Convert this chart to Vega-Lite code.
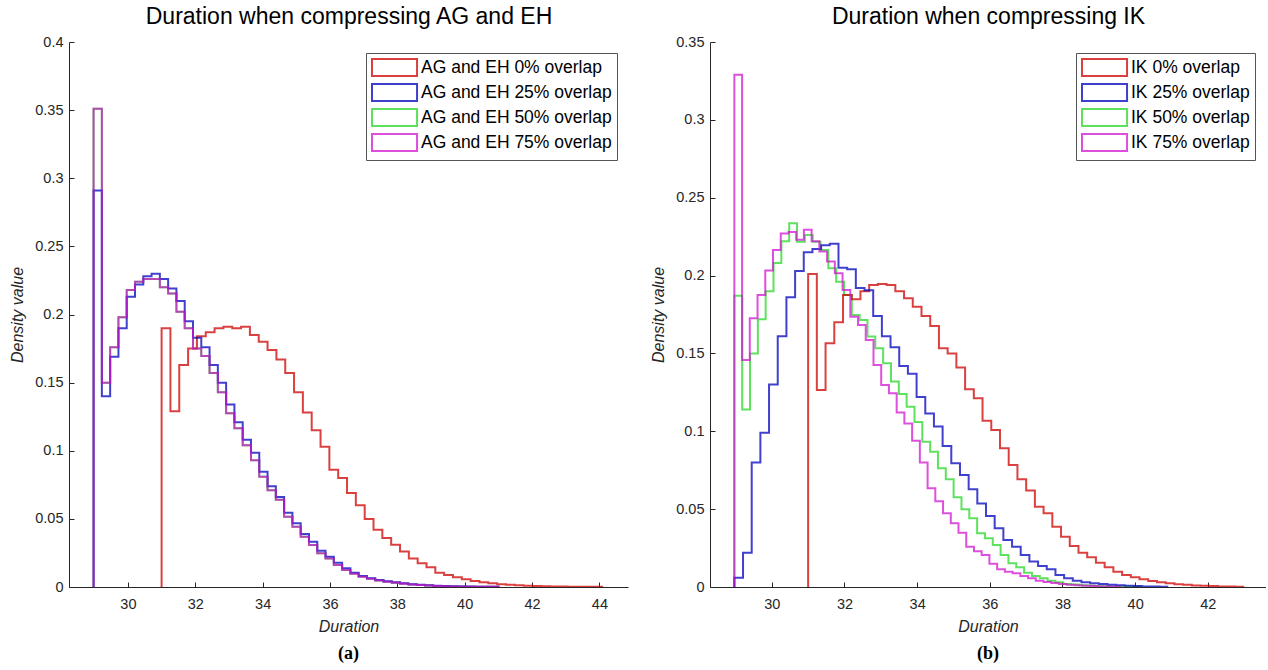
{
"$schema":"https://vega.github.io/schema/vega-lite/v6.json",
"background":"white",
"padding":{"left":9,"top":5,"right":0,"bottom":0},
"config":{
 "view":{"stroke":null},
 "font":"Liberation Sans",
 "axis":{"grid":false,"domainColor":"#262626","tickColor":"#262626","labelColor":"#262626","titleColor":"#262626","labelFont":"Liberation Sans","labelFontSize":14.5,"titleFont":"Liberation Sans","titleFontSize":16,"titleFontStyle":"italic","titleFontWeight":"normal","tickSize":-5,"tickWidth":1,"domainWidth":1},
 "axisX":{"labelPadding":15,"titlePadding":8},
 "axisY":{"labelPadding":11,"titlePadding":9},
 "legend":{"orient":"top-right","offset":11,"strokeColor":"#555555","fillColor":"white","padding":5,"labelFont":"Liberation Sans","labelFontSize":17.5,"labelColor":"#000000","labelLimit":400,"symbolType":"M-1,-1H4.3V1H-1Z","symbolSize":289,"symbolStrokeWidth":2,"symbolFillColor":"transparent","rowPadding":0,"labelOffset":31,"cornerRadius":0},
 "title":{"font":"Liberation Serif","fontSize":18,"fontWeight":"bold","color":"#000000","anchor":"middle","frame":"group","offset":10}
},
"datasets":{
"left":[
{"series":"AG and EH 50% overlap","x":28.98,"y":0},
{"series":"AG and EH 50% overlap","x":29.226,"y":0.351},
{"series":"AG and EH 50% overlap","x":29.472,"y":0.150},
{"series":"AG and EH 50% overlap","x":29.718,"y":0.176},
{"series":"AG and EH 50% overlap","x":29.964,"y":0.198},
{"series":"AG and EH 50% overlap","x":30.210,"y":0.218},
{"series":"AG and EH 50% overlap","x":30.456,"y":0.224},
{"series":"AG and EH 50% overlap","x":30.702,"y":0.226},
{"series":"AG and EH 50% overlap","x":30.948,"y":0.226},
{"series":"AG and EH 50% overlap","x":31.194,"y":0.220},
{"series":"AG and EH 50% overlap","x":31.440,"y":0.2155},
{"series":"AG and EH 50% overlap","x":31.686,"y":0.202},
{"series":"AG and EH 50% overlap","x":31.932,"y":0.190},
{"series":"AG and EH 50% overlap","x":32.178,"y":0.175},
{"series":"AG and EH 50% overlap","x":32.424,"y":0.1695},
{"series":"AG and EH 50% overlap","x":32.670,"y":0.157},
{"series":"AG and EH 50% overlap","x":32.916,"y":0.143},
{"series":"AG and EH 50% overlap","x":33.162,"y":0.1275},
{"series":"AG and EH 50% overlap","x":33.408,"y":0.1165},
{"series":"AG and EH 50% overlap","x":33.654,"y":0.104},
{"series":"AG and EH 50% overlap","x":33.900,"y":0.093},
{"series":"AG and EH 50% overlap","x":34.146,"y":0.081},
{"series":"AG and EH 50% overlap","x":34.392,"y":0.071},
{"series":"AG and EH 50% overlap","x":34.638,"y":0.064},
{"series":"AG and EH 50% overlap","x":34.884,"y":0.0516},
{"series":"AG and EH 50% overlap","x":35.130,"y":0.0443},
{"series":"AG and EH 50% overlap","x":35.376,"y":0.0369},
{"series":"AG and EH 50% overlap","x":35.622,"y":0.0308},
{"series":"AG and EH 50% overlap","x":35.868,"y":0.0247},
{"series":"AG and EH 50% overlap","x":36.114,"y":0.021},
{"series":"AG and EH 50% overlap","x":36.360,"y":0.0161},
{"series":"AG and EH 50% overlap","x":36.606,"y":0.0125},
{"series":"AG and EH 50% overlap","x":36.852,"y":0.0098},
{"series":"AG and EH 50% overlap","x":37.098,"y":0.0075},
{"series":"AG and EH 50% overlap","x":37.344,"y":0.006},
{"series":"AG and EH 50% overlap","x":37.590,"y":0.0048},
{"series":"AG and EH 50% overlap","x":37.836,"y":0.0039},
{"series":"AG and EH 50% overlap","x":38.082,"y":0.0031},
{"series":"AG and EH 50% overlap","x":38.328,"y":0.0024},
{"series":"AG and EH 50% overlap","x":38.574,"y":0.0018},
{"series":"AG and EH 50% overlap","x":38.820,"y":0.0014},
{"series":"AG and EH 50% overlap","x":39.066,"y":0.0011},
{"series":"AG and EH 50% overlap","x":39.312,"y":0.0008},
{"series":"AG and EH 50% overlap","x":39.558,"y":0.0006},
{"series":"AG and EH 50% overlap","x":39.804,"y":0.0004},
{"series":"AG and EH 50% overlap","x":40.050,"y":0.0003},
{"series":"AG and EH 50% overlap","x":40.296,"y":0.0002},
{"series":"AG and EH 50% overlap","x":40.542,"y":0.0002},
{"series":"AG and EH 50% overlap","x":40.788,"y":0.0001},
{"series":"AG and EH 50% overlap","x":41.034,"y":0.0001},
{"series":"AG and EH 0% overlap","x":31.0,"y":0},
{"series":"AG and EH 0% overlap","x":31.262,"y":0.190},
{"series":"AG and EH 0% overlap","x":31.524,"y":0.129},
{"series":"AG and EH 0% overlap","x":31.787,"y":0.163},
{"series":"AG and EH 0% overlap","x":32.049,"y":0.175},
{"series":"AG and EH 0% overlap","x":32.311,"y":0.184},
{"series":"AG and EH 0% overlap","x":32.573,"y":0.187},
{"series":"AG and EH 0% overlap","x":32.835,"y":0.190},
{"series":"AG and EH 0% overlap","x":33.098,"y":0.191},
{"series":"AG and EH 0% overlap","x":33.360,"y":0.190},
{"series":"AG and EH 0% overlap","x":33.622,"y":0.191},
{"series":"AG and EH 0% overlap","x":33.884,"y":0.185},
{"series":"AG and EH 0% overlap","x":34.146,"y":0.180},
{"series":"AG and EH 0% overlap","x":34.409,"y":0.174},
{"series":"AG and EH 0% overlap","x":34.671,"y":0.167},
{"series":"AG and EH 0% overlap","x":34.933,"y":0.157},
{"series":"AG and EH 0% overlap","x":35.195,"y":0.143},
{"series":"AG and EH 0% overlap","x":35.457,"y":0.128},
{"series":"AG and EH 0% overlap","x":35.720,"y":0.115},
{"series":"AG and EH 0% overlap","x":35.982,"y":0.103},
{"series":"AG and EH 0% overlap","x":36.244,"y":0.086},
{"series":"AG and EH 0% overlap","x":36.506,"y":0.080},
{"series":"AG and EH 0% overlap","x":36.768,"y":0.069},
{"series":"AG and EH 0% overlap","x":37.031,"y":0.060},
{"series":"AG and EH 0% overlap","x":37.293,"y":0.050},
{"series":"AG and EH 0% overlap","x":37.555,"y":0.042},
{"series":"AG and EH 0% overlap","x":37.817,"y":0.036},
{"series":"AG and EH 0% overlap","x":38.079,"y":0.031},
{"series":"AG and EH 0% overlap","x":38.342,"y":0.026},
{"series":"AG and EH 0% overlap","x":38.604,"y":0.021},
{"series":"AG and EH 0% overlap","x":38.866,"y":0.0175},
{"series":"AG and EH 0% overlap","x":39.128,"y":0.0145},
{"series":"AG and EH 0% overlap","x":39.390,"y":0.0105},
{"series":"AG and EH 0% overlap","x":39.653,"y":0.0088},
{"series":"AG and EH 0% overlap","x":39.915,"y":0.0071},
{"series":"AG and EH 0% overlap","x":40.177,"y":0.0057},
{"series":"AG and EH 0% overlap","x":40.439,"y":0.0044},
{"series":"AG and EH 0% overlap","x":40.701,"y":0.0034},
{"series":"AG and EH 0% overlap","x":40.964,"y":0.0027},
{"series":"AG and EH 0% overlap","x":41.226,"y":0.002},
{"series":"AG and EH 0% overlap","x":41.488,"y":0.0016},
{"series":"AG and EH 0% overlap","x":41.750,"y":0.0012},
{"series":"AG and EH 0% overlap","x":42.012,"y":0.0009},
{"series":"AG and EH 0% overlap","x":42.275,"y":0.0007},
{"series":"AG and EH 0% overlap","x":42.537,"y":0.0005},
{"series":"AG and EH 0% overlap","x":42.799,"y":0.0004},
{"series":"AG and EH 0% overlap","x":43.061,"y":0.0003},
{"series":"AG and EH 0% overlap","x":43.323,"y":0.0002},
{"series":"AG and EH 0% overlap","x":43.586,"y":0.00015},
{"series":"AG and EH 0% overlap","x":43.848,"y":0.0001},
{"series":"AG and EH 0% overlap","x":44.110,"y":0.0001},
{"series":"AG and EH 25% overlap","x":28.98,"y":0},
{"series":"AG and EH 25% overlap","x":29.226,"y":0.291},
{"series":"AG and EH 25% overlap","x":29.472,"y":0.140},
{"series":"AG and EH 25% overlap","x":29.718,"y":0.169},
{"series":"AG and EH 25% overlap","x":29.964,"y":0.190},
{"series":"AG and EH 25% overlap","x":30.210,"y":0.213},
{"series":"AG and EH 25% overlap","x":30.456,"y":0.222},
{"series":"AG and EH 25% overlap","x":30.702,"y":0.228},
{"series":"AG and EH 25% overlap","x":30.948,"y":0.230},
{"series":"AG and EH 25% overlap","x":31.194,"y":0.226},
{"series":"AG and EH 25% overlap","x":31.440,"y":0.219},
{"series":"AG and EH 25% overlap","x":31.686,"y":0.210},
{"series":"AG and EH 25% overlap","x":31.932,"y":0.195},
{"series":"AG and EH 25% overlap","x":32.178,"y":0.183},
{"series":"AG and EH 25% overlap","x":32.424,"y":0.176},
{"series":"AG and EH 25% overlap","x":32.670,"y":0.163},
{"series":"AG and EH 25% overlap","x":32.916,"y":0.150},
{"series":"AG and EH 25% overlap","x":33.162,"y":0.134},
{"series":"AG and EH 25% overlap","x":33.408,"y":0.121},
{"series":"AG and EH 25% overlap","x":33.654,"y":0.108},
{"series":"AG and EH 25% overlap","x":33.900,"y":0.0986},
{"series":"AG and EH 25% overlap","x":34.146,"y":0.0846},
{"series":"AG and EH 25% overlap","x":34.392,"y":0.074},
{"series":"AG and EH 25% overlap","x":34.638,"y":0.066},
{"series":"AG and EH 25% overlap","x":34.884,"y":0.0545},
{"series":"AG and EH 25% overlap","x":35.130,"y":0.0467},
{"series":"AG and EH 25% overlap","x":35.376,"y":0.0389},
{"series":"AG and EH 25% overlap","x":35.622,"y":0.0333},
{"series":"AG and EH 25% overlap","x":35.868,"y":0.0266},
{"series":"AG and EH 25% overlap","x":36.114,"y":0.0222},
{"series":"AG and EH 25% overlap","x":36.360,"y":0.0178},
{"series":"AG and EH 25% overlap","x":36.606,"y":0.0137},
{"series":"AG and EH 25% overlap","x":36.852,"y":0.0105},
{"series":"AG and EH 25% overlap","x":37.098,"y":0.008},
{"series":"AG and EH 25% overlap","x":37.344,"y":0.0064},
{"series":"AG and EH 25% overlap","x":37.590,"y":0.0051},
{"series":"AG and EH 25% overlap","x":37.836,"y":0.0042},
{"series":"AG and EH 25% overlap","x":38.082,"y":0.0034},
{"series":"AG and EH 25% overlap","x":38.328,"y":0.0027},
{"series":"AG and EH 25% overlap","x":38.574,"y":0.002},
{"series":"AG and EH 25% overlap","x":38.820,"y":0.0016},
{"series":"AG and EH 25% overlap","x":39.066,"y":0.0012},
{"series":"AG and EH 25% overlap","x":39.312,"y":0.0009},
{"series":"AG and EH 25% overlap","x":39.558,"y":0.0007},
{"series":"AG and EH 25% overlap","x":39.804,"y":0.0005},
{"series":"AG and EH 25% overlap","x":40.050,"y":0.0004},
{"series":"AG and EH 25% overlap","x":40.296,"y":0.0003},
{"series":"AG and EH 25% overlap","x":40.542,"y":0.0002},
{"series":"AG and EH 25% overlap","x":40.788,"y":0.0002},
{"series":"AG and EH 25% overlap","x":41.034,"y":0.0001},
{"series":"AG and EH 75% overlap","x":28.98,"y":0},
{"series":"AG and EH 75% overlap","x":29.226,"y":0.351},
{"series":"AG and EH 75% overlap","x":29.472,"y":0.150},
{"series":"AG and EH 75% overlap","x":29.718,"y":0.176},
{"series":"AG and EH 75% overlap","x":29.964,"y":0.198},
{"series":"AG and EH 75% overlap","x":30.210,"y":0.218},
{"series":"AG and EH 75% overlap","x":30.456,"y":0.224},
{"series":"AG and EH 75% overlap","x":30.702,"y":0.226},
{"series":"AG and EH 75% overlap","x":30.948,"y":0.226},
{"series":"AG and EH 75% overlap","x":31.194,"y":0.220},
{"series":"AG and EH 75% overlap","x":31.440,"y":0.2155},
{"series":"AG and EH 75% overlap","x":31.686,"y":0.202},
{"series":"AG and EH 75% overlap","x":31.932,"y":0.190},
{"series":"AG and EH 75% overlap","x":32.178,"y":0.175},
{"series":"AG and EH 75% overlap","x":32.424,"y":0.1695},
{"series":"AG and EH 75% overlap","x":32.670,"y":0.157},
{"series":"AG and EH 75% overlap","x":32.916,"y":0.143},
{"series":"AG and EH 75% overlap","x":33.162,"y":0.1275},
{"series":"AG and EH 75% overlap","x":33.408,"y":0.1165},
{"series":"AG and EH 75% overlap","x":33.654,"y":0.104},
{"series":"AG and EH 75% overlap","x":33.900,"y":0.093},
{"series":"AG and EH 75% overlap","x":34.146,"y":0.081},
{"series":"AG and EH 75% overlap","x":34.392,"y":0.071},
{"series":"AG and EH 75% overlap","x":34.638,"y":0.064},
{"series":"AG and EH 75% overlap","x":34.884,"y":0.0516},
{"series":"AG and EH 75% overlap","x":35.130,"y":0.0443},
{"series":"AG and EH 75% overlap","x":35.376,"y":0.0369},
{"series":"AG and EH 75% overlap","x":35.622,"y":0.0308},
{"series":"AG and EH 75% overlap","x":35.868,"y":0.0247},
{"series":"AG and EH 75% overlap","x":36.114,"y":0.021},
{"series":"AG and EH 75% overlap","x":36.360,"y":0.0161},
{"series":"AG and EH 75% overlap","x":36.606,"y":0.0125},
{"series":"AG and EH 75% overlap","x":36.852,"y":0.0098},
{"series":"AG and EH 75% overlap","x":37.098,"y":0.0075},
{"series":"AG and EH 75% overlap","x":37.344,"y":0.006},
{"series":"AG and EH 75% overlap","x":37.590,"y":0.0048},
{"series":"AG and EH 75% overlap","x":37.836,"y":0.0039},
{"series":"AG and EH 75% overlap","x":38.082,"y":0.0031},
{"series":"AG and EH 75% overlap","x":38.328,"y":0.0024},
{"series":"AG and EH 75% overlap","x":38.574,"y":0.0018},
{"series":"AG and EH 75% overlap","x":38.820,"y":0.0014},
{"series":"AG and EH 75% overlap","x":39.066,"y":0.0011},
{"series":"AG and EH 75% overlap","x":39.312,"y":0.0008},
{"series":"AG and EH 75% overlap","x":39.558,"y":0.0006},
{"series":"AG and EH 75% overlap","x":39.804,"y":0.0004},
{"series":"AG and EH 75% overlap","x":40.050,"y":0.0003},
{"series":"AG and EH 75% overlap","x":40.296,"y":0.0002},
{"series":"AG and EH 75% overlap","x":40.542,"y":0.0002},
{"series":"AG and EH 75% overlap","x":40.788,"y":0.0001},
{"series":"AG and EH 75% overlap","x":41.034,"y":0.0001}
],
"right":[
{"series":"IK 50% overlap","x":28.97,"y":0},
{"series":"IK 50% overlap","x":29.186,"y":0.187},
{"series":"IK 50% overlap","x":29.401,"y":0.114},
{"series":"IK 50% overlap","x":29.617,"y":0.150},
{"series":"IK 50% overlap","x":29.832,"y":0.172},
{"series":"IK 50% overlap","x":30.048,"y":0.190},
{"series":"IK 50% overlap","x":30.263,"y":0.208},
{"series":"IK 50% overlap","x":30.479,"y":0.222},
{"series":"IK 50% overlap","x":30.694,"y":0.2336},
{"series":"IK 50% overlap","x":30.910,"y":0.2218},
{"series":"IK 50% overlap","x":31.125,"y":0.226},
{"series":"IK 50% overlap","x":31.341,"y":0.2218},
{"series":"IK 50% overlap","x":31.556,"y":0.2164},
{"series":"IK 50% overlap","x":31.772,"y":0.2047},
{"series":"IK 50% overlap","x":31.987,"y":0.196},
{"series":"IK 50% overlap","x":32.203,"y":0.1875},
{"series":"IK 50% overlap","x":32.418,"y":0.1747},
{"series":"IK 50% overlap","x":32.634,"y":0.1715},
{"series":"IK 50% overlap","x":32.849,"y":0.1608},
{"series":"IK 50% overlap","x":33.065,"y":0.1533},
{"series":"IK 50% overlap","x":33.280,"y":0.1437},
{"series":"IK 50% overlap","x":33.496,"y":0.132},
{"series":"IK 50% overlap","x":33.711,"y":0.124},
{"series":"IK 50% overlap","x":33.927,"y":0.1158},
{"series":"IK 50% overlap","x":34.142,"y":0.106},
{"series":"IK 50% overlap","x":34.358,"y":0.0933},
{"series":"IK 50% overlap","x":34.573,"y":0.0869},
{"series":"IK 50% overlap","x":34.789,"y":0.0762},
{"series":"IK 50% overlap","x":35.004,"y":0.0692},
{"series":"IK 50% overlap","x":35.220,"y":0.0576},
{"series":"IK 50% overlap","x":35.435,"y":0.0499},
{"series":"IK 50% overlap","x":35.651,"y":0.0441},
{"series":"IK 50% overlap","x":35.866,"y":0.0345},
{"series":"IK 50% overlap","x":36.082,"y":0.0313},
{"series":"IK 50% overlap","x":36.297,"y":0.027},
{"series":"IK 50% overlap","x":36.513,"y":0.0206},
{"series":"IK 50% overlap","x":36.728,"y":0.0152},
{"series":"IK 50% overlap","x":36.944,"y":0.0127},
{"series":"IK 50% overlap","x":37.159,"y":0.0092},
{"series":"IK 50% overlap","x":37.375,"y":0.0071},
{"series":"IK 50% overlap","x":37.590,"y":0.0056},
{"series":"IK 50% overlap","x":37.806,"y":0.004},
{"series":"IK 50% overlap","x":38.021,"y":0.003},
{"series":"IK 50% overlap","x":38.237,"y":0.002},
{"series":"IK 50% overlap","x":38.452,"y":0.0016},
{"series":"IK 50% overlap","x":38.668,"y":0.0012},
{"series":"IK 50% overlap","x":38.883,"y":0.0009},
{"series":"IK 50% overlap","x":39.099,"y":0.0007},
{"series":"IK 50% overlap","x":39.314,"y":0.0005},
{"series":"IK 50% overlap","x":39.530,"y":0.0004},
{"series":"IK 50% overlap","x":39.745,"y":0.0003},
{"series":"IK 50% overlap","x":39.961,"y":0.0002},
{"series":"IK 50% overlap","x":40.176,"y":0.0001},
{"series":"IK 0% overlap","x":31.0,"y":0},
{"series":"IK 0% overlap","x":31.24,"y":0.201},
{"series":"IK 0% overlap","x":31.48,"y":0.1265},
{"series":"IK 0% overlap","x":31.72,"y":0.1565},
{"series":"IK 0% overlap","x":31.96,"y":0.170},
{"series":"IK 0% overlap","x":32.20,"y":0.1875},
{"series":"IK 0% overlap","x":32.44,"y":0.1848},
{"series":"IK 0% overlap","x":32.68,"y":0.190},
{"series":"IK 0% overlap","x":32.92,"y":0.194},
{"series":"IK 0% overlap","x":33.16,"y":0.1946},
{"series":"IK 0% overlap","x":33.40,"y":0.194},
{"series":"IK 0% overlap","x":33.64,"y":0.190},
{"series":"IK 0% overlap","x":33.88,"y":0.1854},
{"series":"IK 0% overlap","x":34.12,"y":0.180},
{"series":"IK 0% overlap","x":34.36,"y":0.174},
{"series":"IK 0% overlap","x":34.60,"y":0.1676},
{"series":"IK 0% overlap","x":34.84,"y":0.1533},
{"series":"IK 0% overlap","x":35.08,"y":0.150},
{"series":"IK 0% overlap","x":35.32,"y":0.141},
{"series":"IK 0% overlap","x":35.56,"y":0.127},
{"series":"IK 0% overlap","x":35.80,"y":0.1212},
{"series":"IK 0% overlap","x":36.04,"y":0.1068},
{"series":"IK 0% overlap","x":36.28,"y":0.1008},
{"series":"IK 0% overlap","x":36.52,"y":0.0891},
{"series":"IK 0% overlap","x":36.76,"y":0.0784},
{"series":"IK 0% overlap","x":37.00,"y":0.0692},
{"series":"IK 0% overlap","x":37.24,"y":0.0619},
{"series":"IK 0% overlap","x":37.48,"y":0.0516},
{"series":"IK 0% overlap","x":37.72,"y":0.0473},
{"series":"IK 0% overlap","x":37.96,"y":0.0387},
{"series":"IK 0% overlap","x":38.20,"y":0.0323},
{"series":"IK 0% overlap","x":38.44,"y":0.0263},
{"series":"IK 0% overlap","x":38.68,"y":0.022},
{"series":"IK 0% overlap","x":38.92,"y":0.0191},
{"series":"IK 0% overlap","x":39.16,"y":0.0156},
{"series":"IK 0% overlap","x":39.40,"y":0.0127},
{"series":"IK 0% overlap","x":39.64,"y":0.0098},
{"series":"IK 0% overlap","x":39.88,"y":0.0077},
{"series":"IK 0% overlap","x":40.12,"y":0.0062},
{"series":"IK 0% overlap","x":40.36,"y":0.0049},
{"series":"IK 0% overlap","x":40.60,"y":0.0038},
{"series":"IK 0% overlap","x":40.84,"y":0.003},
{"series":"IK 0% overlap","x":41.08,"y":0.0024},
{"series":"IK 0% overlap","x":41.32,"y":0.0018},
{"series":"IK 0% overlap","x":41.56,"y":0.0014},
{"series":"IK 0% overlap","x":41.80,"y":0.001},
{"series":"IK 0% overlap","x":42.04,"y":0.0008},
{"series":"IK 0% overlap","x":42.28,"y":0.0006},
{"series":"IK 0% overlap","x":42.52,"y":0.0004},
{"series":"IK 0% overlap","x":42.76,"y":0.0003},
{"series":"IK 0% overlap","x":43.00,"y":0.0002},
{"series":"IK 25% overlap","x":28.97,"y":0},
{"series":"IK 25% overlap","x":29.209,"y":0.006},
{"series":"IK 25% overlap","x":29.448,"y":0.022},
{"series":"IK 25% overlap","x":29.686,"y":0.080},
{"series":"IK 25% overlap","x":29.925,"y":0.099},
{"series":"IK 25% overlap","x":30.164,"y":0.130},
{"series":"IK 25% overlap","x":30.403,"y":0.161},
{"series":"IK 25% overlap","x":30.642,"y":0.186},
{"series":"IK 25% overlap","x":30.880,"y":0.203},
{"series":"IK 25% overlap","x":31.119,"y":0.215},
{"series":"IK 25% overlap","x":31.358,"y":0.217},
{"series":"IK 25% overlap","x":31.597,"y":0.2195},
{"series":"IK 25% overlap","x":31.836,"y":0.2205},
{"series":"IK 25% overlap","x":32.074,"y":0.205},
{"series":"IK 25% overlap","x":32.313,"y":0.204},
{"series":"IK 25% overlap","x":32.552,"y":0.192},
{"series":"IK 25% overlap","x":32.791,"y":0.1905},
{"series":"IK 25% overlap","x":33.030,"y":0.174},
{"series":"IK 25% overlap","x":33.268,"y":0.161},
{"series":"IK 25% overlap","x":33.507,"y":0.154},
{"series":"IK 25% overlap","x":33.746,"y":0.142},
{"series":"IK 25% overlap","x":33.985,"y":0.137},
{"series":"IK 25% overlap","x":34.224,"y":0.122},
{"series":"IK 25% overlap","x":34.462,"y":0.1115},
{"series":"IK 25% overlap","x":34.701,"y":0.103},
{"series":"IK 25% overlap","x":34.940,"y":0.0906},
{"series":"IK 25% overlap","x":35.179,"y":0.0794},
{"series":"IK 25% overlap","x":35.418,"y":0.0719},
{"series":"IK 25% overlap","x":35.656,"y":0.0627},
{"series":"IK 25% overlap","x":35.895,"y":0.0537},
{"series":"IK 25% overlap","x":36.134,"y":0.0456},
{"series":"IK 25% overlap","x":36.373,"y":0.0377},
{"series":"IK 25% overlap","x":36.612,"y":0.0302},
{"series":"IK 25% overlap","x":36.850,"y":0.0259},
{"series":"IK 25% overlap","x":37.089,"y":0.0206},
{"series":"IK 25% overlap","x":37.328,"y":0.0163},
{"series":"IK 25% overlap","x":37.567,"y":0.0135},
{"series":"IK 25% overlap","x":37.806,"y":0.0114},
{"series":"IK 25% overlap","x":38.044,"y":0.0077},
{"series":"IK 25% overlap","x":38.283,"y":0.0056},
{"series":"IK 25% overlap","x":38.522,"y":0.004},
{"series":"IK 25% overlap","x":38.761,"y":0.003},
{"series":"IK 25% overlap","x":39.000,"y":0.0024},
{"series":"IK 25% overlap","x":39.238,"y":0.002},
{"series":"IK 25% overlap","x":39.477,"y":0.0015},
{"series":"IK 25% overlap","x":39.716,"y":0.0011},
{"series":"IK 25% overlap","x":39.955,"y":0.0008},
{"series":"IK 25% overlap","x":40.194,"y":0.0006},
{"series":"IK 25% overlap","x":40.432,"y":0.0004},
{"series":"IK 25% overlap","x":40.671,"y":0.0003},
{"series":"IK 25% overlap","x":40.910,"y":0.0002},
{"series":"IK 75% overlap","x":28.97,"y":0},
{"series":"IK 75% overlap","x":29.183,"y":0.329},
{"series":"IK 75% overlap","x":29.395,"y":0.1458},
{"series":"IK 75% overlap","x":29.608,"y":0.1726},
{"series":"IK 75% overlap","x":29.821,"y":0.1875},
{"series":"IK 75% overlap","x":30.034,"y":0.2032},
{"series":"IK 75% overlap","x":30.246,"y":0.2164},
{"series":"IK 75% overlap","x":30.459,"y":0.227},
{"series":"IK 75% overlap","x":30.672,"y":0.228},
{"series":"IK 75% overlap","x":30.884,"y":0.223},
{"series":"IK 75% overlap","x":31.097,"y":0.2295},
{"series":"IK 75% overlap","x":31.310,"y":0.222},
{"series":"IK 75% overlap","x":31.522,"y":0.2154},
{"series":"IK 75% overlap","x":31.735,"y":0.209},
{"series":"IK 75% overlap","x":31.948,"y":0.2015},
{"series":"IK 75% overlap","x":32.161,"y":0.1908},
{"series":"IK 75% overlap","x":32.373,"y":0.1736},
{"series":"IK 75% overlap","x":32.586,"y":0.1683},
{"series":"IK 75% overlap","x":32.799,"y":0.1586},
{"series":"IK 75% overlap","x":33.011,"y":0.1426},
{"series":"IK 75% overlap","x":33.224,"y":0.1297},
{"series":"IK 75% overlap","x":33.437,"y":0.1244},
{"series":"IK 75% overlap","x":33.649,"y":0.112},
{"series":"IK 75% overlap","x":33.862,"y":0.105},
{"series":"IK 75% overlap","x":34.075,"y":0.094},
{"series":"IK 75% overlap","x":34.288,"y":0.080},
{"series":"IK 75% overlap","x":34.500,"y":0.0634},
{"series":"IK 75% overlap","x":34.713,"y":0.055},
{"series":"IK 75% overlap","x":34.926,"y":0.0473},
{"series":"IK 75% overlap","x":35.138,"y":0.041},
{"series":"IK 75% overlap","x":35.351,"y":0.0349},
{"series":"IK 75% overlap","x":35.564,"y":0.0259},
{"series":"IK 75% overlap","x":35.776,"y":0.023},
{"series":"IK 75% overlap","x":35.989,"y":0.0206},
{"series":"IK 75% overlap","x":36.202,"y":0.015},
{"series":"IK 75% overlap","x":36.415,"y":0.0114},
{"series":"IK 75% overlap","x":36.627,"y":0.0098},
{"series":"IK 75% overlap","x":36.840,"y":0.0088},
{"series":"IK 75% overlap","x":37.053,"y":0.007},
{"series":"IK 75% overlap","x":37.265,"y":0.0056},
{"series":"IK 75% overlap","x":37.478,"y":0.004},
{"series":"IK 75% overlap","x":37.691,"y":0.0032},
{"series":"IK 75% overlap","x":37.903,"y":0.0025},
{"series":"IK 75% overlap","x":38.116,"y":0.0019},
{"series":"IK 75% overlap","x":38.329,"y":0.0015},
{"series":"IK 75% overlap","x":38.542,"y":0.0011},
{"series":"IK 75% overlap","x":38.754,"y":0.0008},
{"series":"IK 75% overlap","x":38.967,"y":0.0006},
{"series":"IK 75% overlap","x":39.180,"y":0.0004},
{"series":"IK 75% overlap","x":39.392,"y":0.0003},
{"series":"IK 75% overlap","x":39.605,"y":0.0002}
]
},
"resolve":{"scale":{"color":"independent"},"legend":{"color":"independent"}},
"spacing":22,
"hconcat":[
{
 "title":{"text":"(a)","orient":"bottom"},
 "width":559,"height":545,
 "data":{"name":"left"},
 "layer":[
  {
   "mark":{"type":"line","interpolate":"step-before","strokeWidth":2,"opacity":0.75,"clip":true},
   "encoding":{
    "x":{"field":"x","type":"quantitative","scale":{"domain":[28.25,44.85],"nice":false,"zero":false},"axis":{"values":[30,32,34,36,38,40,42,44],"title":"Duration"}},
    "y":{"field":"y","type":"quantitative","scale":{"domain":[0,0.4],"nice":false},"axis":{"values":[0,0.05,0.1,0.15,0.2,0.25,0.3,0.35,0.4],"format":"~g","title":"Density value"}},
    "color":{"field":"series","type":"nominal","scale":{"domain":["AG and EH 0% overlap","AG and EH 25% overlap","AG and EH 50% overlap","AG and EH 75% overlap"],"range":["#cd0000","#0000be","#28d728","#d214d2"]},"legend":{"title":null}}
   }
  },
  {
   "mark":{"type":"line","opacity":0},
   "encoding":{
    "x":{"field":"x","type":"quantitative","axis":{"orient":"top","title":"Duration when compressing AG and EH","labels":false,"ticks":false,"domain":false,"titleFontStyle":"normal","titleFontSize":23,"titleColor":"#000000","titlePadding":14}},
    "y":{"field":"y","type":"quantitative"}
   }
  }
 ],
 "resolve":{"axis":{"x":"independent"}}
},
{
 "title":{"text":"(b)","orient":"bottom"},
 "width":556,"height":545,
 "data":{"name":"right"},
 "layer":[
  {
   "mark":{"type":"line","interpolate":"step-before","strokeWidth":2,"opacity":0.75,"clip":true},
   "encoding":{
    "x":{"field":"x","type":"quantitative","scale":{"domain":[28.3,43.6],"nice":false,"zero":false},"axis":{"values":[30,32,34,36,38,40,42],"title":"Duration"}},
    "y":{"field":"y","type":"quantitative","scale":{"domain":[0,0.35],"nice":false},"axis":{"values":[0,0.05,0.1,0.15,0.2,0.25,0.3,0.35],"format":"~g","title":"Density value"}},
    "color":{"field":"series","type":"nominal","scale":{"domain":["IK 0% overlap","IK 25% overlap","IK 50% overlap","IK 75% overlap"],"range":["#cd0000","#0000be","#28d728","#d214d2"]},"legend":{"title":null}}
   }
  },
  {
   "mark":{"type":"line","opacity":0},
   "encoding":{
    "x":{"field":"x","type":"quantitative","axis":{"orient":"top","title":"Duration when compressing IK","labels":false,"ticks":false,"domain":false,"titleFontStyle":"normal","titleFontSize":23,"titleColor":"#000000","titlePadding":14}},
    "y":{"field":"y","type":"quantitative"}
   }
  }
 ],
 "resolve":{"axis":{"x":"independent"}}
}
]
}
